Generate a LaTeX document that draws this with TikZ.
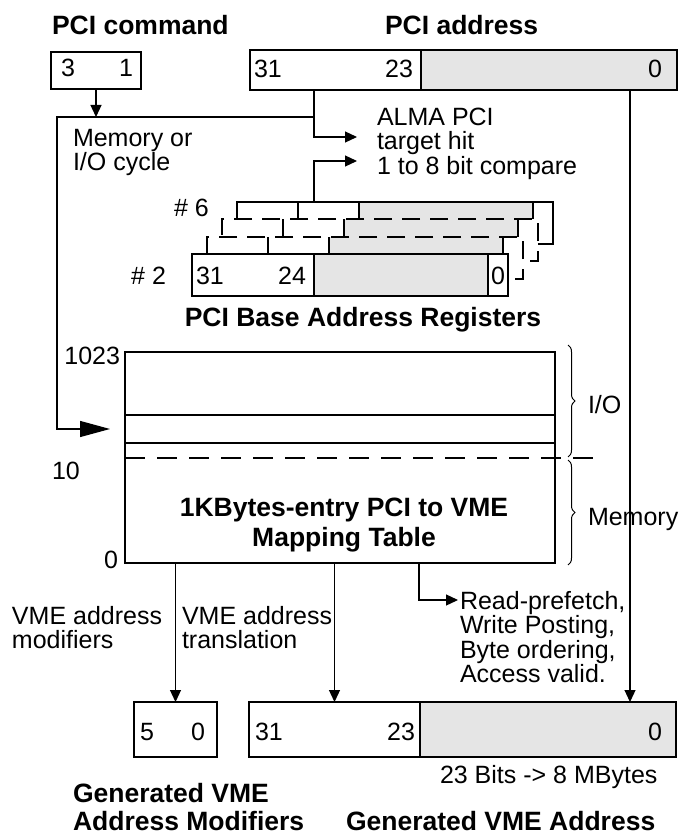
\documentclass[tikz,border=0pt]{standalone}
\usepackage{fontspec}
\setmainfont{Liberation Sans}
\usetikzlibrary{arrows.meta,decorations.pathreplacing,calc}
\begin{document}
\begin{tikzpicture}[x=1pt,y=-1pt,line width=1.2pt,
  txt/.style={font=\fontsize{25}{24.5}\selectfont,inner sep=0pt,outer sep=0pt},
  ttl/.style={font=\bfseries\fontsize{26.5}{28}\selectfont,inner sep=0pt,outer sep=0pt},
  box/.style={draw,inner sep=0pt,outer sep=0pt,anchor=north west},
  grayf/.style={fill=gray!20},
  arr/.style={-{Triangle[length=12pt,width=11pt]}},
  bigarr/.style={-{Triangle[length=30pt,width=16pt]}},
  regdash/.style={dash pattern=on 18pt off 10pt},
  tabdash/.style={dash pattern=on 20pt off 12pt},
  brc/.style={decorate,decoration={brace,amplitude=7pt},line width=1pt}]
\useasboundingbox (0,0) rectangle (691,837);

% ---------- titles ----------
\node[ttl,anchor=base west] (tcmd) at (52,35) {PCI command};
\node[ttl,anchor=base west] (tadr) at (385,35) {PCI address};

% ---------- PCI command / address ----------
\node[box,minimum width=90pt,minimum height=37pt] (cmd) at (51,52) {};
\node[txt,anchor=base west] (c3) at (61,77) {3};
\node[txt,anchor=base east] (c1) at (133,77) {1};

\node[box,minimum width=171pt,minimum height=40pt] (addrW) at (250,50) {};
\node[box,grayf,minimum width=256pt,minimum height=40pt] (addrG) at (421,50) {};
\node[txt,anchor=base west] (a31) at (254,78) {31};
\node[txt,anchor=base east] (a23) at (413,78) {23};
\node[txt,anchor=base east] (a0) at (662,78) {0};

% ---------- junctions ----------
\coordinate (jL) at (57,117);
\coordinate (jA) at (314,137);
\coordinate (hit) at (357,137);
\coordinate (cmpT) at (314,161);
\coordinate (cmp) at (357,161);
\coordinate (rx) at (630,0);

\node[txt,anchor=north west,align=left] (memio) at (73,129) {Memory or\\I/O cycle};
\node[txt,anchor=north west,align=left] (alma) at (377,108) {ALMA PCI\\target hit\\1 to 8 bit compare};

% ---------- register stack (back to front) ----------
% #6
\fill[white] (237,202) rectangle (553,244);
\fill[gray!20] (359,202) rectangle (533,244);
\node[box,minimum width=316pt,minimum height=42pt] (r6) at (237,202) {};
\draw (298,202) -- (298,244) (359,202) -- (359,244) (533,202) -- (533,244);
% middle (dashed)
\fill[white] (222,219) rectangle (538,261);
\fill[gray!20] (344,219) rectangle (518,261);
\node[box,regdash,minimum width=316pt,minimum height=42pt] (r4) at (222,219) {};
\draw[regdash] (283,219) -- (283,261) (344,219) -- (344,261) (518,219) -- (518,261);
\fill[white] (207,237) rectangle (523,279);
\fill[gray!20] (329,237) rectangle (503,279);
\node[box,regdash,minimum width=316pt,minimum height=42pt] (r3) at (207,237) {};
\draw[regdash] (268,237) -- (268,279) (329,237) -- (329,279) (503,237) -- (503,279);
% #2 (front)
\node[box,fill=white,minimum width=122pt,minimum height=42pt] (fW) at (192,254) {};
\node[box,grayf,minimum width=174pt,minimum height=42pt] (fG) at (314,254) {};
\node[box,fill=white,minimum width=20pt,minimum height=42pt] (fZ) at (488,254) {};
\node[txt,anchor=base west] (f31) at (196,284) {31};
\node[txt,anchor=base east] (f24) at (306,284) {24};
\node[txt,anchor=base] (f0) at (498,284) {0};

\node[txt,anchor=base west] (n6) at (174,216) {\# 6};
\node[txt,anchor=base east] (n2) at (166,284) {\# 2};
\node[ttl,anchor=base] (regs) at (363,326) {PCI Base Address Registers};

% ---------- connectors at top ----------
\draw[arr] (cmd.south) -- (cmd.south |- jL);
\draw[arr] (addrW.south -| jA) -- (jA) -- (hit);
\draw[arr] (r6.north -| cmpT) -- (cmpT) -- (cmp);

% ---------- mapping table ----------
\node[box,minimum width=430pt,minimum height=211pt] (tab) at (125,352) {};
\node[box,minimum width=430pt,minimum height=28pt] (row) at (125,415) {};
\draw[tabdash] (125,458) -- (599,458);
\node[txt,anchor=base east] (l1023) at (120,364) {1023};
\node[txt,anchor=base west] (l10) at (52,479) {10};
\node[txt,anchor=base east] (l0) at (118,568) {0};
\node[ttl,anchor=north,align=center,font=\bfseries\fontsize{26.5}{30}\selectfont] (tabt) at (344,497.5) {1KBytes-entry PCI to VME\\Mapping Table};

\draw[bigarr] (jA |- jL) -- (jL) -- (jL |- row.west) -- ([xshift=-15pt]row.west);

\draw[brc] (568,345) -- (568,457);
\draw[brc] (568,460) -- (568,565);
\node[txt,anchor=base west] (io) at (588,413) {I/O};
\node[txt,anchor=base west] (mem) at (588,525) {Memory};

% ---------- bottom ----------
\node[box,minimum width=83pt,minimum height=55pt] (am) at (134,702) {};
\node[box,minimum width=171pt,minimum height=55pt] (vmeW) at (249,702) {};
\node[box,grayf,minimum width=256pt,minimum height=55pt] (vmeG) at (420,702) {};
\node[txt,anchor=base west] (m5) at (140,740) {5};
\node[txt,anchor=base east] (m0) at (205,740) {0};
\node[txt,anchor=base west] (v31) at (255,740) {31};
\node[txt,anchor=base east] (v23) at (415,740) {23};
\node[txt,anchor=base east] (v0) at (662,740) {0};

\coordinate (rp) at (419,600);
\coordinate (rpt) at (458,600);
\draw[arr] (tab.south -| am.north) -- (am.north);
\draw[arr] (tab.south -| vmeW.north) -- (vmeW.north);
\draw[arr] (tab.south -| rp) -- (rp) -- (rpt);
\draw[arr] (addrG.south -| rx) -- (vmeG.north -| rx);

\node[txt,anchor=north west,align=left] (vam) at (12,606) {VME address\\modifiers};
\node[txt,anchor=north west,align=left] (vat) at (182,606) {VME address\\translation};
\node[txt,anchor=north west,align=left] (rpf) at (460,591) {Read-prefetch,\\Write Posting,\\Byte ordering,\\Access valid.};

\node[txt,anchor=base west] (bits) at (440,783) {23 Bits -> 8 MBytes};
\node[ttl,anchor=base west,align=left] (gam) at (73,830) {Generated VME\\Address Modifiers};
\node[ttl,anchor=base west] (gva) at (346,830) {Generated VME Address};
\end{tikzpicture}
\end{document}
